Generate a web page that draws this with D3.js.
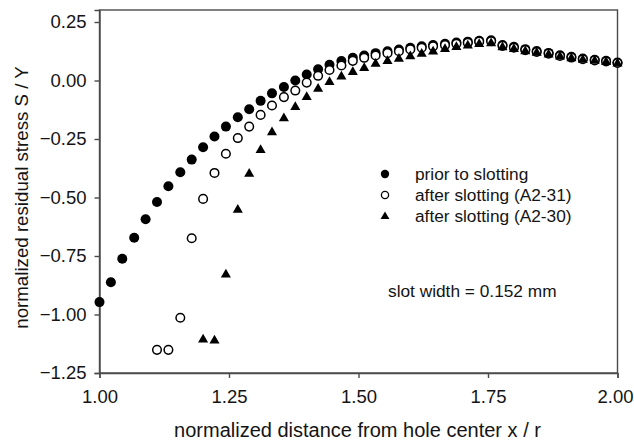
<!DOCTYPE html>
<html>
<head>
<meta charset="utf-8">
<script src="https://cdn.jsdelivr.net/npm/d3@7"></script>
<style>
  html, body { margin: 0; padding: 0; background: #fff; }
  svg { display: block; }
  text { font-family: "Liberation Sans", Arial, Helvetica, sans-serif; fill: #141414; }
</style>
</head>
<body>
<svg id="chart" width="634" height="446"></svg>
<script>
// ---- data ----
const xValues = [1.000, 1.022, 1.044, 1.067, 1.089, 1.111, 1.133, 1.156, 1.178, 1.200,
                 1.222, 1.244, 1.267, 1.289, 1.311, 1.333, 1.356, 1.378, 1.400, 1.422,
                 1.444, 1.467, 1.489, 1.511, 1.533, 1.556, 1.578, 1.600, 1.622, 1.644,
                 1.667, 1.689, 1.711, 1.733, 1.756, 1.778, 1.800, 1.822, 1.844, 1.867,
                 1.889, 1.911, 1.933, 1.956, 1.978, 2.000];

// prior to slotting (starts at x index 0)
const priorValues = [-0.947, -0.862, -0.762, -0.672, -0.593, -0.519, -0.452, -0.392, -0.338, -0.285,
                     -0.239, -0.197, -0.157, -0.123, -0.087, -0.055, -0.028, 0.000, 0.026, 0.048,
                     0.067, 0.083, 0.097, 0.107, 0.117, 0.125, 0.132, 0.140, 0.146, 0.152,
                     0.157, 0.162, 0.166, 0.170, 0.172, 0.152, 0.144, 0.134, 0.126, 0.118,
                     0.108, 0.101, 0.094, 0.089, 0.084, 0.077];

// after slotting (A2-31) (starts at x index 5)
const a231Start = 5;
const a231Values = [-1.151, -1.151, -1.014, -0.674, -0.506, -0.395, -0.313, -0.246, -0.197, -0.147,
                    -0.107, -0.071, -0.043, -0.009, 0.020, 0.045, 0.064, 0.084, 0.097, 0.107,
                    0.117, 0.125, 0.133, 0.140, 0.146, 0.151, 0.157, 0.161, 0.166, 0.168,
                    0.148, 0.140, 0.130, 0.122, 0.115, 0.105, 0.098, 0.091, 0.086, 0.081,
                    0.075];

// after slotting (A2-30) (starts at x index 9)
const a230Start = 9;
const a230Values = [-1.107, -1.111, -0.829, -0.553, -0.399, -0.297, -0.221, -0.162, -0.114, -0.071,
                    -0.036, -0.007, 0.017, 0.036, 0.053, 0.071, 0.083, 0.093, 0.103, 0.114,
                    0.124, 0.134, 0.143, 0.149, 0.156, 0.159, 0.142, 0.134, 0.125, 0.118,
                    0.111, 0.102, 0.095, 0.088, 0.084, 0.079, 0.072];

const xTicks = [1.00, 1.25, 1.50, 1.75, 2.00];
const yTicks = [0.25, 0.00, -0.25, -0.50, -0.75, -1.00, -1.25];
const legendLabels = ["prior to slotting", "after slotting (A2-31)", "after slotting (A2-30)"];
const xTitle = "normalized distance from hole center x / r";
const yTitle = "normalized residual stress S / Y";
const noteText = "slot width = 0.152 mm";

// ---- layout ----
const margin = {left: 99.5, top: 10, right: 16.5, bottom: 73};
const W = 634, H = 446;
const svg = d3.select("#chart");

const x = d3.scaleLinear().domain([1, 2]).range([margin.left, W - margin.right]);
const y = d3.scaleLinear().domain([-1.25, 0.3013]).range([373, margin.top]);

const frameColor = "#4a4a4a";

// frame box
svg.append("rect")
  .attr("x", x(1)).attr("y", y(0.3013))
  .attr("width", x(2) - x(1)).attr("height", y(-1.25) - y(0.3013))
  .attr("fill", "none").attr("stroke", frameColor).attr("stroke-width", 1.4);

// axes
const fmt = d3.format(".2f");
const xAxis = svg.append("g")
  .attr("transform", `translate(0,${y(-1.25)})`)
  .call(d3.axisBottom(x).tickValues(xTicks).tickFormat(fmt).tickSize(5).tickPadding(12));
const yAxis = svg.append("g")
  .attr("transform", `translate(${x(1)},0)`)
  .call(d3.axisLeft(y).tickValues(yTicks).tickFormat(fmt).tickSize(5).tickPadding(8));

[xAxis, yAxis].forEach(g => {
  g.select(".domain").attr("stroke", frameColor).attr("stroke-width", 1.4);
  g.selectAll(".tick line").attr("stroke", frameColor).attr("stroke-width", 1.4);
  g.selectAll(".tick text")
    .attr("font-family", "'Liberation Sans', Arial, sans-serif")
    .attr("font-size", 18.5).attr("fill", "#141414");
});
// keep the last x label inside the page edge
xAxis.selectAll(".tick text").filter(d => d === 2).attr("dx", -2.5);

// axis titles
svg.append("text")
  .attr("x", (x(1) + x(2)) / 2 - 1).attr("y", 437)
  .attr("text-anchor", "middle").attr("font-size", 20)
  .text(xTitle);
svg.append("text")
  .attr("transform", `translate(28,${197.5}) rotate(-90)`)
  .attr("text-anchor", "middle").attr("font-size", 18.7)
  .text(yTitle);

// ---- marks ----
const priorData = priorValues.map((v, i) => ({x: xValues[i], y: v}));
const a231Data = a231Values.map((v, i) => ({x: xValues[i + a231Start], y: v}));
const a230Data = a230Values.map((v, i) => ({x: xValues[i + a230Start], y: v}));

const tri = d3.symbol().type(d3.symbolTriangle).size(44);

svg.append("g").selectAll("circle").data(priorData).join("circle")
  .attr("cx", d => x(d.x)).attr("cy", d => y(d.y)).attr("r", 5)
  .attr("fill", "#000");

svg.append("g").selectAll("circle").data(a231Data).join("circle")
  .attr("cx", d => x(d.x)).attr("cy", d => y(d.y)).attr("r", 4.3)
  .attr("fill", "#fff").attr("stroke", "#000").attr("stroke-width", 1.5);

svg.append("g").selectAll("path").data(a230Data).join("path")
  .attr("d", tri)
  .attr("transform", d => `translate(${x(d.x)},${y(d.y)})`)
  .attr("fill", "#000");

// ---- legend ----
const legend = svg.append("g");
const ly = [174, 195, 216.5];
legend.append("circle").attr("cx", 385).attr("cy", ly[0]).attr("r", 4.2).attr("fill", "#000");
legend.append("circle").attr("cx", 385).attr("cy", ly[1]).attr("r", 3.6)
  .attr("fill", "#fff").attr("stroke", "#000").attr("stroke-width", 1.3);
legend.append("path").attr("d", d3.symbol().type(d3.symbolTriangle).size(34)())
  .attr("transform", `translate(385,${ly[2]})`).attr("fill", "#000");
legend.selectAll("text").data(legendLabels).join("text")
  .attr("x", 415).attr("y", (d, i) => ly[i] + 5.5)
  .attr("font-size", 17.3).text(d => d);

// note
svg.append("text").attr("x", 388).attr("y", 297).attr("font-size", 17.3).text(noteText);
</script>
</body>
</html>
